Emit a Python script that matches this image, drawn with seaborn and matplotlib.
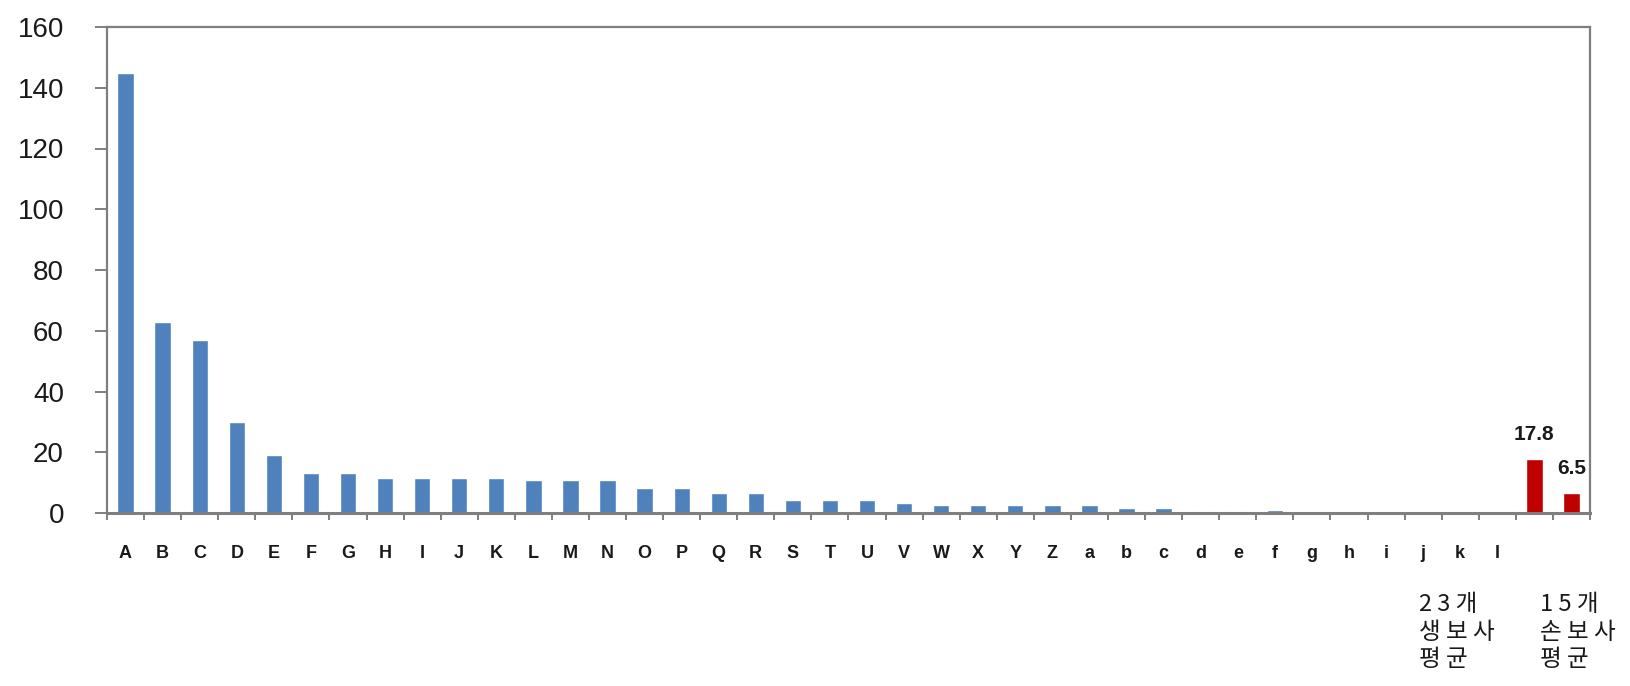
import matplotlib
matplotlib.use("Agg")
import matplotlib.pyplot as plt
import matplotlib.transforms as mtransforms
import seaborn as sns
import pandas as pd

# ---- data ----
letters = list("ABCDEFGHIJKLMNOPQRSTUVWXYZ") + list("abcdefghijkl")
letter_values = [145, 63, 57, 30, 19, 13.3, 13.3, 11.5, 11.5, 11.5, 11.5,
                 10.8, 10.8, 10.8, 8.2, 8.2, 6.5, 6.5, 4.2, 4.2, 4.2, 3.3,
                 2.5, 2.5, 2.5, 2.5, 2.5, 1.8, 1.8, 0.8, 0.8, 0.9,
                 0, 0, 0, 0, 0, 0]
avg_keys = ["avg_life", "avg_nonlife"]
avg_labels = ["2 3 개\n생 보 사\n평 균", "1 5 개\n손 보 사\n평 균"]
avg_values = [17.8, 6.5]
y_ticks = [0, 20, 40, 60, 80, 100, 120, 140, 160]

categories = letters + avg_keys
values = letter_values + avg_values
groups = ["company"] * len(letters) + ["average"] * len(avg_keys)
df = pd.DataFrame({"cat": categories, "val": values, "grp": groups})

sns.set_theme(style="white")
plt.rcParams["font.family"] = ["Liberation Sans", "Noto Sans CJK KR", "DejaVu Sans"]

W, H = 1630, 686
fig = plt.figure(figsize=(W / 100, H / 100), dpi=100)
ax = fig.add_axes([107 / W, 1 - 513 / H, (1590 - 107) / W, (513 - 27) / H])

sns.barplot(data=df, x="cat", y="val", hue="grp", order=categories,
            hue_order=["company", "average"],
            palette={"company": "#4F81BD", "average": "#C00000"},
            dodge=False, width=0.44, legend=False, ax=ax, saturation=1)

ax.set_xlim(-0.5, len(categories) - 0.5)
ax.set_ylim(0, 160)
ax.set_yticks(y_ticks)
ax.set_yticklabels([str(t) for t in y_ticks], fontsize=20, color="#1a1a1a")
ax.set_xticks(range(len(letters)))
ax.set_xticklabels(letters, fontsize=13, fontweight="bold", color="#1a1a1a")
ax.set_xticks([i + 0.5 for i in range(-1, len(categories))], minor=True)
ax.set_xlabel("")
ax.set_ylabel("")

spine_c = "#7f7f7f"
for s in ax.spines.values():
    s.set_visible(True)
    s.set_color(spine_c)
    s.set_linewidth(1.6)
ax.spines["bottom"].set_linewidth(2.2)

ax.tick_params(axis="y", which="major", direction="out", length=9, width=1.4,
               color=spine_c, pad=22, left=True)
ax.tick_params(axis="x", which="major", length=0, pad=23, bottom=True)
ax.tick_params(axis="x", which="minor", direction="out", length=5, width=1.4,
               color=spine_c, bottom=True)

# value labels on the average bars
for k, v in zip(avg_keys, avg_values):
    i = categories.index(k)
    ax.annotate(f"{v}", xy=(i, v), xytext=(0, 11), textcoords="offset points",
                ha="center", va="bottom", fontsize=15, fontweight="bold",
                color="#1a1a1a")

# category labels for the average bars (wrapped like the original)
trans = mtransforms.blended_transform_factory(ax.transData, ax.transAxes)
for k, lab, dx in zip(avg_keys, avg_labels, [-3.1, -0.85]):
    i = categories.index(k)
    ax.text(i + dx, -0.165, lab, transform=trans, ha="left", va="top",
            fontsize=17, linespacing=1.25, color="#1a1a1a",
            family=["Noto Sans CJK KR", "DejaVu Sans"])

fig.savefig("out.png", dpi=100, facecolor="white")
